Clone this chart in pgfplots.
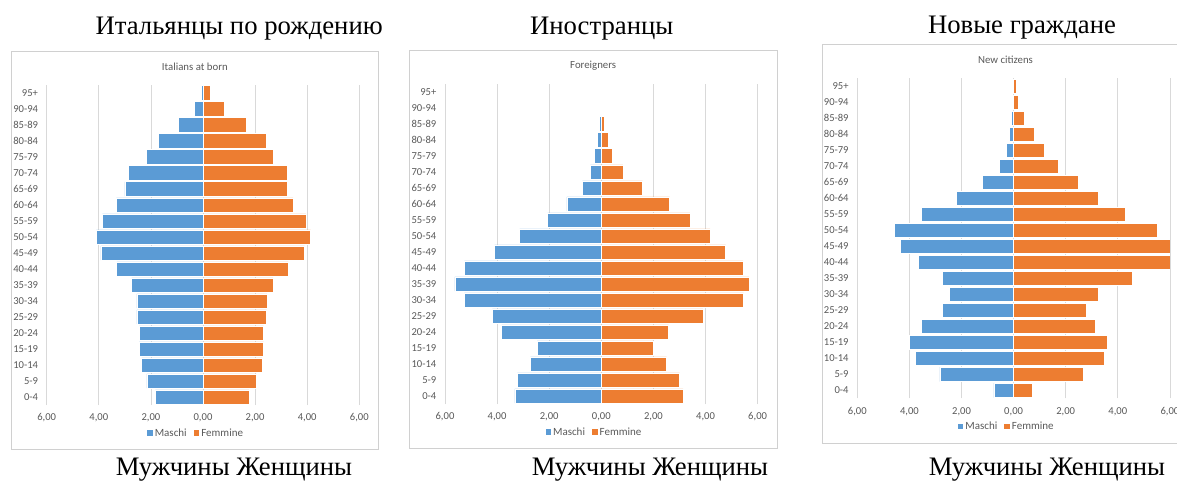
\documentclass[border=0pt]{standalone}
\usepackage{fontspec}
\setmainfont{Liberation Serif}
\newfontfamily\carlito{Carlito}
\usepackage{pgfplots}
\usepackage{pgfplotstable}
\pgfplotsset{compat=1.18}
\definecolor{mblue}{HTML}{5B9BD5}
\definecolor{forange}{HTML}{ED7D31}
\definecolor{gridgray}{HTML}{D9D9D9}
\definecolor{boxgray}{HTML}{D0D0D0}
\definecolor{txtgray}{HTML}{595959}

% Italians at born
\pgfplotstableread{
pos m f
0 -1.83 1.77
1 -2.15 2.05
2 -2.36 2.27
3 -2.45 2.33
4 -2.44 2.33
5 -2.54 2.44
6 -2.54 2.46
7 -2.74 2.69
8 -3.31 3.28
9 -3.92 3.90
10 -4.09 4.13
11 -3.86 3.95
12 -3.33 3.46
13 -3.00 3.22
14 -2.87 3.22
15 -2.18 2.69
16 -1.72 2.42
17 -0.94 1.67
18 -0.33 0.82
19 -0.06 0.27
}\dataA

% Foreigners
\pgfplotstableread{
pos m f
0 -3.32 3.14
1 -3.22 3.01
2 -2.72 2.51
3 -2.46 2.01
4 -3.83 2.58
5 -4.18 3.90
6 -5.26 5.46
7 -5.62 5.67
8 -5.26 5.44
9 -4.10 4.77
10 -3.14 4.18
11 -2.06 3.40
12 -1.32 2.62
13 -0.73 1.59
14 -0.42 0.83
15 -0.26 0.44
16 -0.15 0.26
17 -0.08 0.10
18 -0.02 0.05
19 0.00 0.01
}\dataB

% New citizens
\pgfplotstableread{
pos m f
0 -0.76 0.73
1 -2.83 2.69
2 -3.78 3.49
3 -4.00 3.58
4 -3.55 3.15
5 -2.73 2.78
6 -2.46 3.24
7 -2.73 4.54
8 -3.64 6.00
9 -4.35 6.03
10 -4.58 5.51
11 -3.55 4.29
12 -2.21 3.26
13 -1.19 2.50
14 -0.54 1.72
15 -0.27 1.19
16 -0.17 0.79
17 -0.08 0.42
18 -0.02 0.19
19 -0.01 0.09
}\dataC

\pgfplotsset{pyr/.style={
  scale only axis, width=312.6pt, height=320pt,
  xmin=-6, xmax=6, ymin=-0.5, ymax=19.5,
  xbar, bar width=0.9, bar shift=0pt,
  xtick={-6,-4,-2,0,2,4,6},
  xticklabels={{6,00},{4,00},{2,00},{0,00},{2,00},{4,00},{6,00}},
  ytick={0,...,19},
  yticklabels={0-4,5-9,10-14,15-19,20-24,25-29,30-34,35-39,40-44,45-49,50-54,55-59,60-64,65-69,70-74,75-79,80-84,85-89,90-94,95+},
  xmajorgrids, major grid style={draw=gridgray, line width=0.8pt},
  axis line style={draw=none}, major tick length=0pt,
  tick label style={font=\carlito\fontsize{10.6}{12}\selectfont, text=txtgray},
  xticklabel style={anchor=center, yshift=-13pt},
  yticklabel style={anchor=east, inner sep=0pt, xshift=-8.5pt},
  title style={font=\carlito\fontsize{10.8}{12}\selectfont, text=txtgray, at={(0.474,1)}, anchor=center, yshift=12pt},
  legend style={at={(0.478,-0.088)}, anchor=center, draw=none, fill=none,
    font=\carlito\fontsize{11}{12}\selectfont, text=txtgray, legend columns=2,
    /tikz/every even column/.append style={column sep=5pt}},
  legend image code/.code={\fill[##1, draw=none] (0pt,-2.8pt) rectangle (5.6pt,2.8pt);},
  every axis plot/.append style={draw=white, line width=0.6pt},
}}

\begin{document}
\begin{tikzpicture}[x=1pt,y=1pt]
\path[use as bounding box] (0,0) rectangle (1177,482);
\draw[boxgray, line width=0.8pt] (11.7,32.7) rectangle (378.3,430.3);
\draw[boxgray, line width=0.8pt] (409.3,33.3) rectangle (777.3,431.3);
\draw[boxgray, line width=0.8pt] (822.3,38.7) rectangle (1190,437.3);

\begin{axis}[pyr, at={(46.7pt,77pt)}, anchor=south west, title={Italians at born}]
\addplot[fill=mblue] table[x=m, y=pos] {\dataA};
\addplot[fill=forange] table[x=f, y=pos] {\dataA};
\legend{Maschi, Femmine}
\end{axis}

\begin{axis}[pyr, at={(445pt,78pt)}, anchor=south west, title={Foreigners}]
\addplot[fill=mblue] table[x=m, y=pos] {\dataB};
\addplot[fill=forange] table[x=f, y=pos] {\dataB};
\legend{Maschi, Femmine}
\end{axis}

\begin{axis}[pyr, at={(857.3pt,83.7pt)}, anchor=south west, title={New citizens}]
\addplot[fill=mblue] table[x=m, y=pos] {\dataC};
\addplot[fill=forange] table[x=f, y=pos] {\dataC};
\legend{Maschi, Femmine}
\end{axis}

\node[anchor=base, font=\fontsize{26.7}{30}\selectfont] at (239.2,447) {Итальянцы по рождению};
\node[anchor=base, font=\fontsize{26.7}{30}\selectfont] at (601.7,447) {Иностранцы};
\node[anchor=base, font=\fontsize{26.7}{30}\selectfont] at (1022,448.7) {Новые граждане};
\node[anchor=base, font=\fontsize{26.7}{30}\selectfont] at (234,6.5) {Мужчины Женщины};
\node[anchor=base, font=\fontsize{26.7}{30}\selectfont] at (650,6.5) {Мужчины Женщины};
\node[anchor=base, font=\fontsize{26.7}{30}\selectfont] at (1047,6.5) {Мужчины Женщины};
\end{tikzpicture}
\end{document}
